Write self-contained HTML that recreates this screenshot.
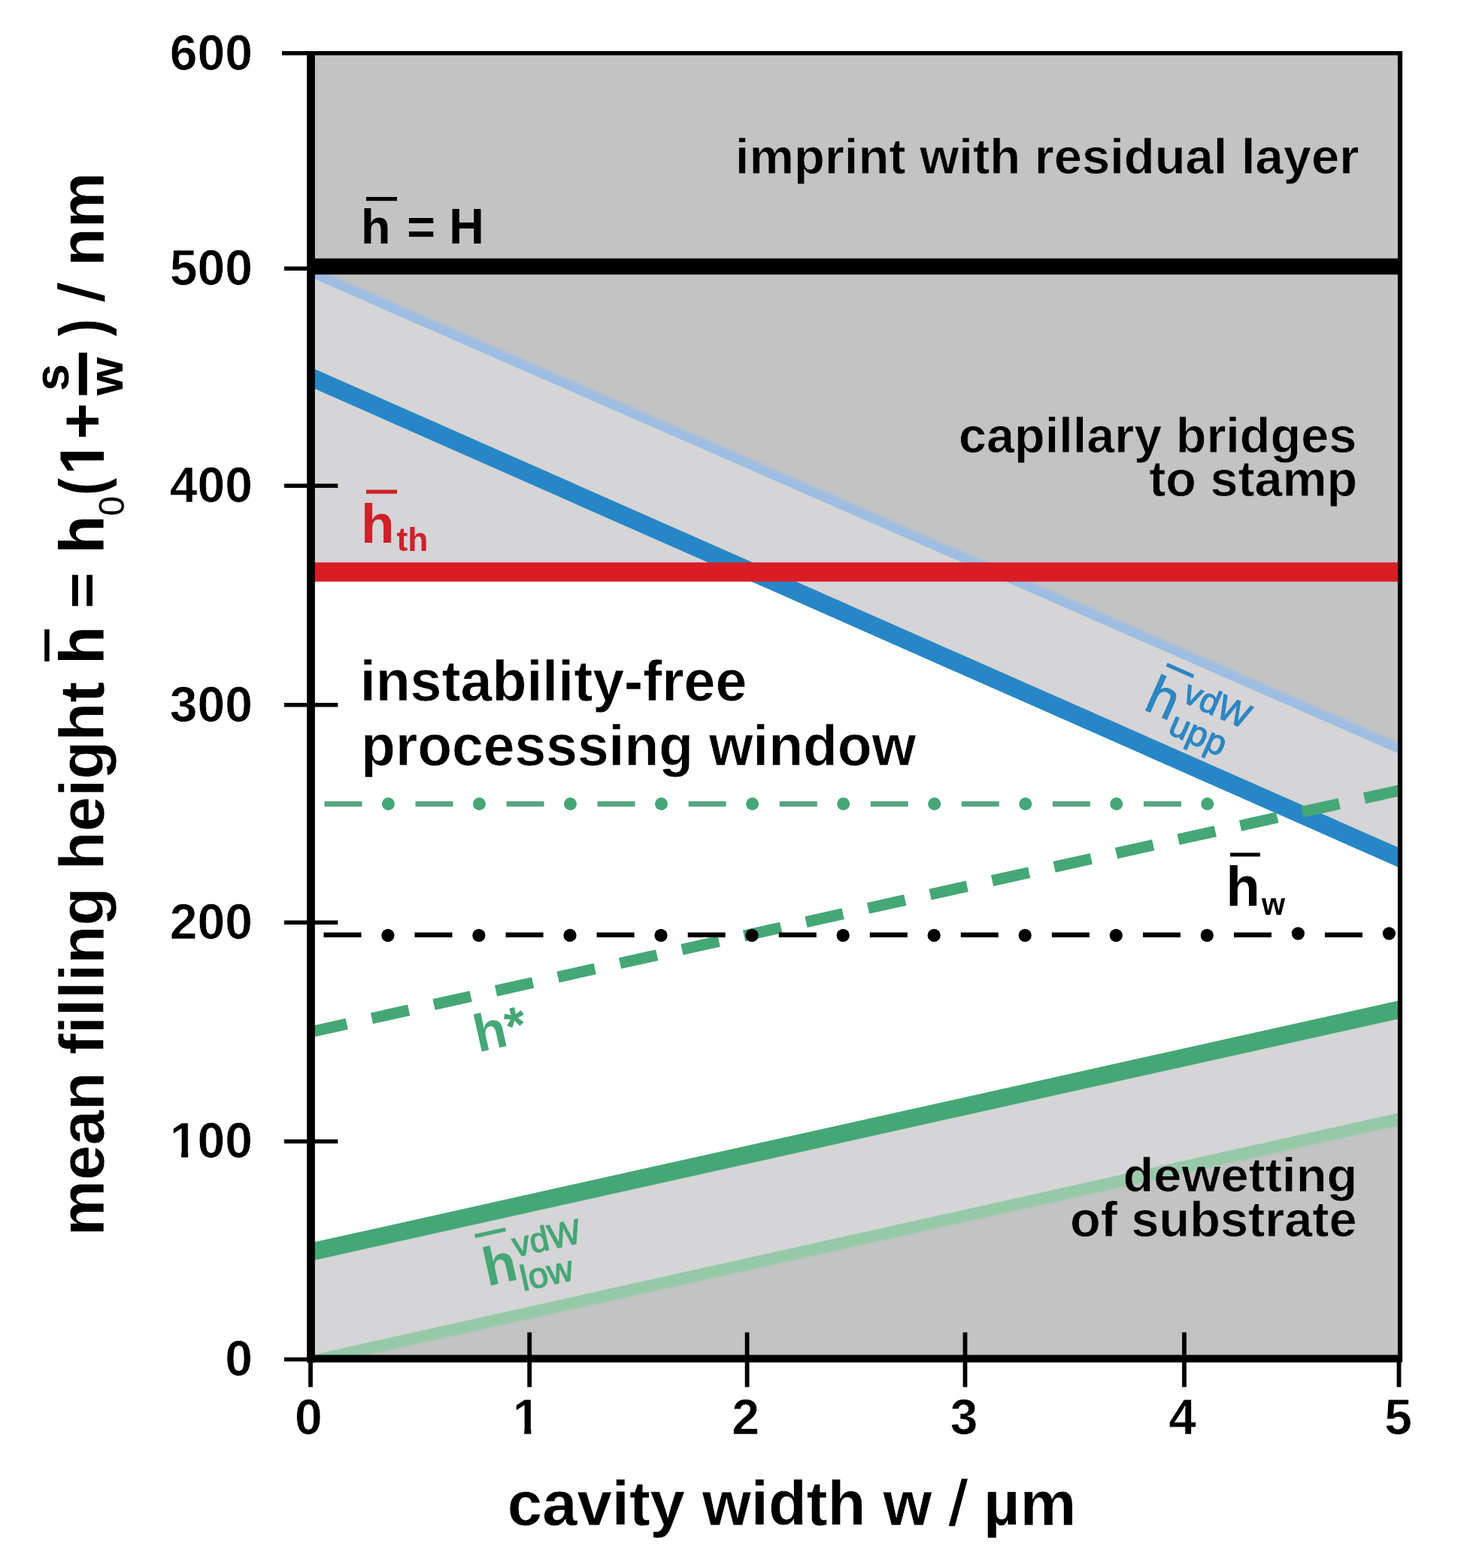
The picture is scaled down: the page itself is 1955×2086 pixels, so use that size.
<!DOCTYPE html>
<html lang="en"><head><meta charset="utf-8"><title>Processing window</title>
<style>html,body{margin:0;padding:0;background:#fff}svg{display:block}text{font-family:"Liberation Sans", Arial, Helvetica, sans-serif;}</style></head><body>
<svg width="1955" height="2086" viewBox="0 0 1955 2086" role="img" aria-label="Processing window diagram: mean filling height versus cavity width">
<rect width="1955" height="2086" fill="#fff"/>
<polygon fill="#c3c3c3" points="413.5,70.8 1862.0,70.8 1862.0,998.1 413.5,363.9"/>
<polygon fill="#d5d4d6" points="413.5,363.9 1862.0,998.1 1862.0,1141.6 1000.2,761.0 413.5,761.0"/>
<polygon fill="#d5d4d6" points="413.5,1665.5 1862.0,1342.8 1862.0,1487.3 413.5,1810.2"/>
<polygon fill="#c3c3c3" points="413.5,1810.2 1862.0,1487.3 1862.0,1807.5 413.5,1807.5"/>
<defs><clipPath id="pc"><rect x="413.5" y="70.8" width="1448.5" height="1736.7"/></clipPath></defs>
<g clip-path="url(#pc)" fill="none">
<linearGradient id="g1" gradientUnits="userSpaceOnUse" x1="1004.71" y1="609.93" x2="998.09" y2="625.04"><stop offset="0.0000" stop-color="#9dbde2" stop-opacity="0"/><stop offset="0.4242" stop-color="#9dbde2" stop-opacity="1"/><stop offset="1.0000" stop-color="#9dbde2" stop-opacity="1"/></linearGradient>
<polygon points="384.71,338.46 1904.71,1003.99 1898.09,1019.10 378.09,353.58" fill="url(#g1)"/>
<line x1="380" y1="487.07" x2="1900" y2="1158.41" stroke="#2787c6" stroke-width="24" />
<linearGradient id="g2" gradientUnits="userSpaceOnUse" x1="998.48" y1="1672.65" x2="1002.39" y2="1690.22"><stop offset="0.0000" stop-color="#95c9a8" stop-opacity="1"/><stop offset="0.7778" stop-color="#95c9a8" stop-opacity="1"/><stop offset="1.0000" stop-color="#95c9a8" stop-opacity="0"/></linearGradient>
<polygon points="378.48,1810.86 1898.48,1472.03 1902.39,1489.60 382.39,1828.43" fill="url(#g2)"/>
<line x1="380" y1="1672.99" x2="1900" y2="1334.37" stroke="#45a776" stroke-width="23.6" />
<line x1="329.5" y1="1391.36" x2="1900" y2="1042.90" stroke="#45a776" stroke-width="15" stroke-dasharray="50.40 34.11"/>
<line x1="431.5" y1="1069.6" x2="481.5" y2="1069.6" stroke="#55a680" stroke-width="7"/>
<circle cx="516.4" cy="1069.6" r="8.5" fill="#45a776"/>
<line x1="552.5" y1="1069.6" x2="602.5" y2="1069.6" stroke="#55a680" stroke-width="7"/>
<circle cx="637.4" cy="1069.6" r="8.5" fill="#45a776"/>
<line x1="673.6" y1="1069.6" x2="723.6" y2="1069.6" stroke="#55a680" stroke-width="7"/>
<circle cx="758.5" cy="1069.6" r="8.5" fill="#45a776"/>
<line x1="794.6" y1="1069.6" x2="844.6" y2="1069.6" stroke="#55a680" stroke-width="7"/>
<circle cx="879.5" cy="1069.6" r="8.5" fill="#45a776"/>
<line x1="915.7" y1="1069.6" x2="965.7" y2="1069.6" stroke="#55a680" stroke-width="7"/>
<circle cx="1000.6" cy="1069.6" r="8.5" fill="#45a776"/>
<line x1="1036.8" y1="1069.6" x2="1086.8" y2="1069.6" stroke="#55a680" stroke-width="7"/>
<circle cx="1121.7" cy="1069.6" r="8.5" fill="#45a776"/>
<line x1="1157.8" y1="1069.6" x2="1207.8" y2="1069.6" stroke="#55a680" stroke-width="7"/>
<circle cx="1242.7" cy="1069.6" r="8.5" fill="#45a776"/>
<line x1="1278.8" y1="1069.6" x2="1328.8" y2="1069.6" stroke="#55a680" stroke-width="7"/>
<circle cx="1363.8" cy="1069.6" r="8.5" fill="#45a776"/>
<line x1="1399.9" y1="1069.6" x2="1449.9" y2="1069.6" stroke="#55a680" stroke-width="7"/>
<circle cx="1484.8" cy="1069.6" r="8.5" fill="#45a776"/>
<line x1="1521.0" y1="1069.6" x2="1571.0" y2="1069.6" stroke="#55a680" stroke-width="7"/>
<circle cx="1605.8" cy="1069.6" r="8.5" fill="#45a776"/>
<line x1="430.5" y1="1243.7" x2="480.5" y2="1243.7" stroke="#000" stroke-width="6.5"/>
<circle cx="515.9" cy="1244.4" r="8.6" fill="#000"/>
<line x1="551.5" y1="1243.7" x2="601.5" y2="1243.7" stroke="#000" stroke-width="6.5"/>
<circle cx="636.9" cy="1244.4" r="8.6" fill="#000"/>
<line x1="672.6" y1="1243.7" x2="722.6" y2="1243.7" stroke="#000" stroke-width="6.5"/>
<circle cx="758.0" cy="1244.4" r="8.6" fill="#000"/>
<line x1="793.6" y1="1243.7" x2="843.6" y2="1243.7" stroke="#000" stroke-width="6.5"/>
<circle cx="879.0" cy="1244.4" r="8.6" fill="#000"/>
<line x1="914.7" y1="1243.7" x2="964.7" y2="1243.7" stroke="#000" stroke-width="6.5"/>
<circle cx="1000.1" cy="1244.4" r="8.6" fill="#000"/>
<line x1="1035.8" y1="1243.7" x2="1085.8" y2="1243.7" stroke="#000" stroke-width="6.5"/>
<circle cx="1121.2" cy="1244.4" r="8.6" fill="#000"/>
<line x1="1156.8" y1="1243.7" x2="1206.8" y2="1243.7" stroke="#000" stroke-width="6.5"/>
<circle cx="1242.2" cy="1244.4" r="8.6" fill="#000"/>
<line x1="1277.8" y1="1243.7" x2="1327.8" y2="1243.7" stroke="#000" stroke-width="6.5"/>
<circle cx="1363.2" cy="1244.4" r="8.6" fill="#000"/>
<line x1="1398.9" y1="1243.7" x2="1448.9" y2="1243.7" stroke="#000" stroke-width="6.5"/>
<circle cx="1484.3" cy="1244.4" r="8.6" fill="#000"/>
<line x1="1520.0" y1="1243.7" x2="1570.0" y2="1243.7" stroke="#000" stroke-width="6.5"/>
<circle cx="1605.3" cy="1244.4" r="8.6" fill="#000"/>
<line x1="1641.0" y1="1243.7" x2="1691.0" y2="1243.7" stroke="#000" stroke-width="6.5"/>
<circle cx="1726.4" cy="1241.8" r="8.6" fill="#000"/>
<line x1="1762.0" y1="1243.7" x2="1812.0" y2="1243.7" stroke="#000" stroke-width="6.5"/>
<circle cx="1847.4" cy="1241.8" r="8.6" fill="#000"/>
<line x1="380" y1="761.0" x2="1900" y2="761.0" stroke="#da1d24" stroke-width="25.5"/>
<line x1="380" y1="354.5" x2="1900" y2="354.5" stroke="#000" stroke-width="21.5"/>
</g>
<g stroke="#000" fill="none">
<line x1="413.5" y1="68.1" x2="413.5" y2="1812.5" stroke-width="10.7"/>
<line x1="408.15" y1="1807.5" x2="1865.1" y2="1807.5" stroke-width="10.0"/>
<line x1="375" y1="70.8" x2="1865.1" y2="70.8" stroke-width="5.4"/>
<line x1="1862.0" y1="70.8" x2="1862.0" y2="1807.5" stroke-width="6.2"/>
<line x1="378" y1="357.2" x2="413.5" y2="357.2" stroke-width="5.5"/>
<line x1="378" y1="646.2" x2="449.3" y2="646.2" stroke-width="5.5"/>
<line x1="378" y1="937.8" x2="449.3" y2="937.8" stroke-width="5.5"/>
<line x1="378" y1="1227.2" x2="449.3" y2="1227.2" stroke-width="5.5"/>
<line x1="378" y1="1518.4" x2="449.3" y2="1518.4" stroke-width="5.5"/>
<line x1="378" y1="1808.5" x2="413.5" y2="1808.5" stroke-width="5.5"/>
<line x1="413.0" y1="1807.5" x2="413.0" y2="1845.3" stroke-width="5.8"/>
<line x1="704.2" y1="1772.5" x2="704.2" y2="1845.3" stroke-width="5.8"/>
<line x1="993.6" y1="1772.5" x2="993.6" y2="1845.3" stroke-width="5.8"/>
<line x1="1283.5" y1="1772.5" x2="1283.5" y2="1845.3" stroke-width="5.8"/>
<line x1="1575.0" y1="1772.5" x2="1575.0" y2="1845.3" stroke-width="5.8"/>
<line x1="1860.5" y1="1807.5" x2="1860.5" y2="1845.3" stroke-width="5.8"/>
</g>
<g font-weight="bold" fill="#000">
<text x="225.72" y="92.60" font-size="66.00" stroke="#fff" stroke-width="0.7">600</text>
<text x="225.72" y="379.00" font-size="66.00" stroke="#fff" stroke-width="0.7">500</text>
<text x="225.72" y="668.00" font-size="66.00" stroke="#fff" stroke-width="0.7">400</text>
<text x="225.72" y="959.60" font-size="66.00" stroke="#fff" stroke-width="0.7">300</text>
<text x="225.72" y="1249.00" font-size="66.00" stroke="#fff" stroke-width="0.7">200</text>
<text x="225.72" y="1540.20" font-size="66.00" stroke="#fff" stroke-width="0.7">100</text>
<rect x="227.70" y="1532.61" width="13.42" height="9.09" fill="#fff"/>
<rect x="250.18" y="1532.61" width="12.50" height="9.09" fill="#fff"/>
<text x="299.31" y="1830.30" font-size="66.00" stroke="#fff" stroke-width="0.7">0</text>
<text x="391.99" y="1908.00" font-size="66.00" stroke="#fff" stroke-width="0.7">0</text>
<text x="681.87" y="1908.00" font-size="66.00" stroke="#fff" stroke-width="0.7">1</text>
<rect x="683.85" y="1900.41" width="13.42" height="9.09" fill="#fff"/>
<rect x="706.32" y="1900.41" width="12.50" height="9.09" fill="#fff"/>
<text x="973.25" y="1908.00" font-size="66.00" stroke="#fff" stroke-width="0.7">2</text>
<text x="1263.81" y="1908.00" font-size="66.00" stroke="#fff" stroke-width="0.7">3</text>
<text x="1554.15" y="1908.00" font-size="66.00" stroke="#fff" stroke-width="0.7">4</text>
<text x="1841.32" y="1908.00" font-size="66.00" stroke="#fff" stroke-width="0.7">5</text>
<text x="674.87" y="2029.10" font-size="83.26" stroke="#fff" stroke-width="0.5">cavity width w</text>
<text x="1262.80" y="2029.10" font-size="83.50" font-weight="normal" stroke="#000" stroke-width="1.6">/</text>
<text x="1307.93" y="2029.10" font-size="84.18" stroke="#fff" stroke-width="0.5">µm</text>
<g transform="translate(138.2,0) rotate(-90)">
<text x="-1644.23" y="0.00" font-size="83.47" stroke="#fff" stroke-width="0.5">mean filling height</text>
<text x="-883.71" y="0.00" font-size="83.00">h</text>
<rect x="-879.9" y="-79" width="42.6" height="6.5"/>
<text transform="translate(-809.82 -5.40) scale(1.0000 0.8750)" font-size="83.00">=</text>
<text x="-736.41" y="0.00" font-size="83.00">h</text>
<text x="-686.62" y="27.00" font-size="48.00" font-weight="normal">0</text>
<text transform="translate(-659.04 0.00) scale(0.8300 1.0000)" font-size="83.00">(</text>
<text x="-631.79" y="0.00" font-size="83.00">1</text>
<rect x="-629.30" y="-9.54" width="16.88" height="11.04" fill="#fff"/>
<rect x="-601.04" y="-9.54" width="15.72" height="11.04" fill="#fff"/>
<text x="-584.62" y="0.00" font-size="83.00">+</text>
<text x="-520.17" y="-47.00" font-size="65.00">s</text>
<rect x="-525.6" y="-33.4" width="56.4" height="11"/>
<text x="-526.00" y="24.50" font-size="65.00">w</text>
<text transform="translate(-447.24 0.00) scale(0.8300 1.0000)" font-size="83.00">)</text>
<text x="-400.40" y="0.00" font-size="83.00" font-weight="normal" stroke="#000" stroke-width="1.8">/</text>
<text x="-354.32" y="0.00" font-size="83.42" stroke="#fff" stroke-width="0.5">nm</text>
</g>
<text x="977.81" y="230.90" font-size="66.94" stroke="#c3c3c3" stroke-width="0.8">imprint with residual layer</text>
<text x="479.88" y="324.40" font-size="64.50">h</text>
<text x="541.32" y="324.40" font-size="64.50">=</text>
<text transform="translate(597.31 324.40) scale(1.0000 1.0400)" font-size="64.50">H</text>
<rect x="487" y="262" width="41" height="5.2"/>
<text x="1275.04" y="602.00" font-size="66.60" stroke="#c3c3c3" stroke-width="0.8">capillary bridges</text>
<text x="1528.24" y="659.50" font-size="66.46" stroke="#c3c3c3" stroke-width="0.8">to stamp</text>
<text transform="translate(1493.43 1585.40) scale(1.0000 0.9300)" font-size="66.86" stroke="#c3c3c3" stroke-width="0.8">dewetting</text>
<text x="1422.93" y="1645.20" font-size="66.71" stroke="#c3c3c3" stroke-width="0.8">of substrate</text>
<text x="478.73" y="932.40" font-size="75.29" stroke="#fff" stroke-width="0.7">instability-free</text>
<text x="480.12" y="1017.50" font-size="75.04" stroke="#fff" stroke-width="0.7">processsing window</text>
<text x="1630.5" y="1204.5" font-size="74">h</text>
<rect x="1636" y="1134.5" width="40" height="5"/>
<text x="1678" y="1217" font-size="40" transform="translate(0 0)">w</text>
</g>
<g font-weight="bold" fill="#cf212a">
<text x="480" y="721.6" font-size="73">h</text>
<rect x="487" y="651.6" width="41" height="5.2"/>
<text x="527.5" y="733" font-size="44.5">th</text>
</g>
<g transform="translate(1526,946) rotate(23.83)" fill="#2c86c3" stroke="#2c86c3" stroke-width="1.2">
<text x="-7.5" y="0" font-size="72">h</text>
<rect x="-1" y="-69" width="38" height="4" stroke-width="1"/>
<text x="35.4" y="-30" font-size="46">vdW</text>
<text x="35" y="16.3" font-size="47">upp</text>
</g>
<g transform="translate(636,1400) rotate(-12.51)" fill="#45a776">
<text x="0" y="0" font-size="70" font-weight="bold">h*</text>
</g>
<g transform="translate(650,1712) rotate(-12.51)" fill="#45a776" stroke="#45a776" stroke-width="1.3">
<text x="-1.5" y="-1" font-size="72" font-weight="bold" stroke="none">h</text>
<rect x="-3" y="-72" width="41" height="4.4" stroke-width="0.8"/>
<text x="43" y="-31" font-size="46">vdW</text>
<text x="43.4" y="15.3" font-size="47.3">low</text>
</g>
</svg></body></html>
